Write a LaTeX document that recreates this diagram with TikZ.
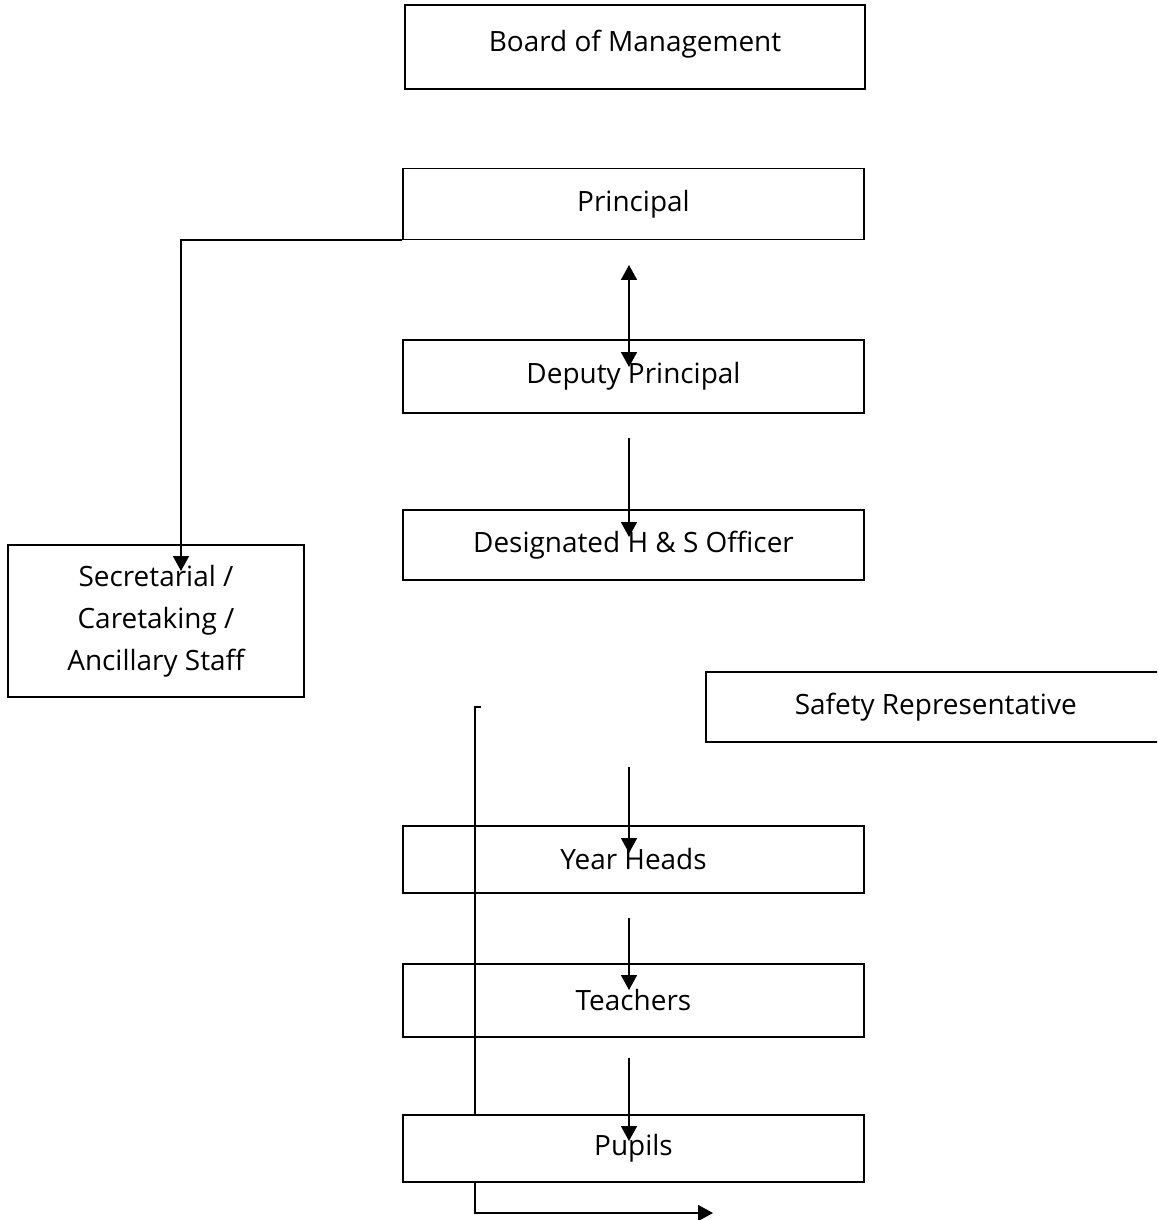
\documentclass[tikz,border=0pt]{standalone}
\usepackage{fontspec}
\setmainfont{Open Sans}
\usetikzlibrary{arrows.meta}
\tikzset{
	box/.style={draw, line width=0.9pt, fill=white, minimum width=9.22cm, minimum height=1.42cm, inner sep=0pt, font=\fontsize{15.9}{23.8}\selectfont},
	tip/.style={line width=0.9pt, -{Triangle[length=0.3cm, width=0.32cm]}},
	dtip/.style={line width=0.9pt, {Triangle[length=0.3cm, width=0.32cm]}-{Triangle[length=0.3cm, width=0.32cm]}}
}

\begin{document}
\begin{tikzpicture}[x=0.02cm, y=-0.02cm]
		%%%%% START %%%%%
		
		\clip (0, 0) rectangle (1157, 1220);
		
		\node[box, minimum width=9.2cm, minimum height=1.68cm] (board) at (635, 47) {\raisebox{0.26cm}{Board of Management}};
		\node[box] (principal) at (633.5, 204) {Principal};
		\node[box, minimum height=1.46cm] (deputy) at (633.5, 376.5) {Deputy Principal};
		\node[box, minimum height=1.4cm] (officer) at (633.5, 545) {Designated H \& S Officer};
		\node[box, minimum width=5.92cm, minimum height=3.04cm, align=center] (staff) at (156, 621) {Secretarial /\\Caretaking /\\Ancillary Staff};
		\node[box, minimum width=9.3cm, minimum height=1.4cm, anchor=west] (saferep) at (705, 707) {Safety Representative\hspace*{0.1cm}};
		\node[box, minimum height=1.34cm] (yearheads) at (633.5, 859.5) {Year Heads};
		\node[box, minimum height=1.46cm] (teachers) at (633.5, 1000.5) {Teachers};
		\node[box, minimum height=1.34cm] (pupils) at (633.5, 1148.5) {Pupils};
		
		% free ends
		\coordinate (secin) at (181, 571);
		\coordinate (pa) at (629, 265);
		\coordinate (pb) at (629, 367);
		\coordinate (da) at (629, 438);
		\coordinate (db) at (629, 537);
		\coordinate (ya) at (629, 767);
		\coordinate (yb) at (629, 853);
		\coordinate (ta) at (629, 918);
		\coordinate (tb) at (629, 990);
		\coordinate (ua) at (629, 1058);
		\coordinate (ub) at (629, 1141);
		\coordinate (lhook) at (481, 707);
		\coordinate (lside) at (475, 707);
		\coordinate (lend) at (713, 1213);
		
		\draw[tip] (principal.south west) -| (secin);
		\draw[dtip] (pa) -- (pb);
		\draw[tip] (da) -- (db);
		\draw[tip] (ya) -- (yb);
		\draw[tip] (ta) -- (tb);
		\draw[tip] (ua) -- (ub);
		
		\draw[line width=0.9pt] (lhook) -- (lside) -- (lside |- pupils.north);
		\draw[tip] (lside |- pupils.south) |- (lend);
		
		%%%%% END %%%%%
	\end{tikzpicture}
\end{document}
